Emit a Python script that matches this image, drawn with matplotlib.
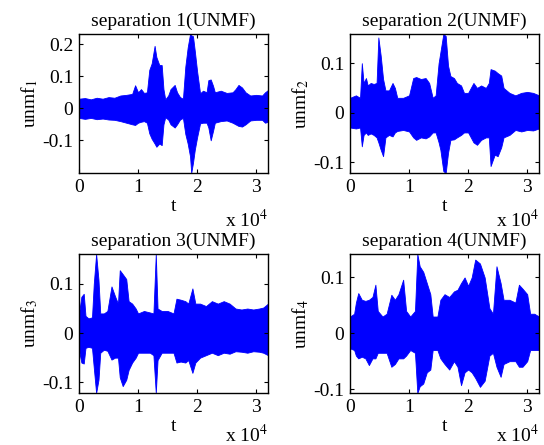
"""Four separated sources (UNMF) drawn as signal envelopes in a 2x2 grid."""

import numpy as np
import matplotlib
matplotlib.use("Agg")
import matplotlib.pyplot as plt

plt.rcParams["font.family"] = ["Liberation Serif", "DejaVu Serif"]
plt.rcParams["mathtext.fontset"] = "stix"
plt.rcParams["font.size"] = 11

# time breakpoints (x 1e4 samples) with upper / lower signal envelope
t1 = [0.00, 0.10, 0.20, 0.30, 0.40, 0.50, 0.60, 0.70, 0.80, 0.90, 0.95, 1.00,
      1.05, 1.10, 1.15, 1.19, 1.23, 1.28, 1.31, 1.36, 1.40, 1.43, 1.46, 1.51,
      1.55, 1.62, 1.66, 1.71, 1.76, 1.80, 1.84, 1.88, 1.90, 1.93, 1.96, 2.00,
      2.05, 2.10, 2.16, 2.19, 2.23, 2.27, 2.30, 2.40, 2.50, 2.60, 2.65, 2.70,
      2.76, 2.82, 2.90, 3.00, 3.10, 3.15, 3.20]
up1 = [.030, .032, .028, .033, .030, .035, .033, .040, .042, .045, .072, .050,
       .060, .048, .050, .120, .140, .195, .160, .135, .135, .060, .028, .040,
       .060, .073, .050, .035, .030, .130, .190, .232, .228, .225, .180, .115,
       .047, .055, .050, .088, .090, .070, .050, .055, .048, .050, .060, .073,
       .065, .050, .040, .042, .040, .050, .057]
lo1 = [-.030, -.033, -.030, -.034, -.032, -.035, -.036, -.040, -.045, -.050,
       -.052, -.045, -.042, -.040, -.045, -.078, -.095, -.110, -.120, -.110,
       -.115, -.050, -.028, -.035, -.050, -.060, -.050, -.035, -.030, -.080,
       -.110, -.150, -.202, -.170, -.130, -.090, -.047, -.045, -.045, -.060,
       -.100, -.070, -.045, -.040, -.038, -.045, -.050, -.055, -.057, -.050,
       -.038, -.036, -.036, -.045, -.042]

t2 = [0.00, 0.10, 0.17, 0.20, 0.23, 0.27, 0.30, 0.35, 0.40, 0.45, 0.48, 0.52,
      0.56, 0.60, 0.66, 0.72, 0.76, 0.80, 0.90, 1.00, 1.07, 1.12, 1.20, 1.28,
      1.34, 1.40, 1.45, 1.50, 1.53, 1.58, 1.62, 1.66, 1.70, 1.76, 1.81, 1.88,
      1.93, 2.00, 2.09, 2.15, 2.22, 2.30, 2.35, 2.38, 2.45, 2.50, 2.56, 2.60,
      2.70, 2.80, 2.90, 3.00, 3.10, 3.20]
up2 = [.030, .035, .030, .100, .060, .070, .055, .060, .058, .060, .152, .115,
       .068, .045, .045, .060, .050, .030, .030, .035, .070, .072, .068, .070,
       .060, .030, .035, .100, .122, .159, .155, .095, .074, .070, .060, .055,
       .040, .040, .060, .050, .055, .050, .060, .088, .085, .080, .075, .050,
       .040, .035, .040, .042, .040, .035]
lo2 = [-.030, -.032, -.030, -.068, -.045, -.040, -.045, -.042, -.045, -.050,
       -.060, -.075, -.088, -.050, -.045, -.048, -.040, -.037, -.035, -.038,
       -.050, -.055, -.050, -.052, -.048, -.040, -.040, -.060, -.075, -.118,
       -.122, -.081, -.055, -.054, -.050, -.045, -.040, -.040, -.060, -.065,
       -.055, -.050, -.050, -.108, -.085, -.088, -.070, -.050, -.045, -.035,
       -.038, -.035, -.036, -.032]

t3 = [0.00, 0.04, 0.08, 0.11, 0.16, 0.22, 0.25, 0.29, 0.33, 0.36, 0.42, 0.48,
      0.55, 0.61, 0.66, 0.69, 0.74, 0.80, 0.84, 0.90, 0.96, 1.00, 1.10, 1.20,
      1.26, 1.30, 1.33, 1.40, 1.50, 1.60, 1.65, 1.72, 1.80, 1.85, 1.92, 1.97,
      2.05, 2.15, 2.25, 2.35, 2.45, 2.55, 2.65, 2.75, 2.85, 2.95, 3.05, 3.12,
      3.20]
up3 = [.040, .074, .080, .035, .030, .032, .100, .161, .108, .040, .040, .045,
       .095, .075, .060, .128, .120, .110, .065, .060, .050, .040, .045, .042,
       .040, .161, .050, .045, .045, .040, .070, .068, .065, .060, .091, .060,
       .060, .055, .065, .060, .065, .060, .050, .048, .050, .048, .050, .052,
       .060]
lo3 = [-.035, -.060, -.062, -.030, -.028, -.030, -.070, -.122, -.095, -.040,
       -.034, -.036, -.054, -.050, -.050, -.090, -.108, -.095, -.075, -.060,
       -.050, -.040, -.040, -.040, -.045, -.122, -.055, -.040, -.040, -.040,
       -.060, -.058, -.060, -.055, -.081, -.060, -.050, -.045, -.040, -.045,
       -.040, -.042, -.037, -.038, -.040, -.037, -.038, -.040, -.045]

t4 = [0.00, 0.07, 0.10, 0.14, 0.20, 0.26, 0.32, 0.38, 0.43, 0.47, 0.55, 0.62,
      0.70, 0.76, 0.82, 0.90, 0.95, 1.02, 1.10, 1.14, 1.18, 1.24, 1.30, 1.36,
      1.40, 1.48, 1.53, 1.60, 1.68, 1.76, 1.82, 1.88, 1.94, 2.00, 2.06, 2.12,
      2.20, 2.28, 2.36, 2.42, 2.48, 2.55, 2.60, 2.70, 2.80, 2.86, 2.92, 3.00,
      3.05, 3.12, 3.20]
up4 = [.030, .035, .055, .072, .060, .058, .060, .065, .087, .040, .030, .035,
       .069, .060, .070, .096, .040, .030, .040, .142, .120, .110, .090, .070,
       .030, .030, .060, .070, .065, .075, .078, .090, .100, .085, .100, .132,
       .125, .100, .045, .035, .120, .090, .060, .060, .055, .087, .080, .070,
       .035, .035, .030]
lo4 = [-.027, -.030, -.040, -.045, -.042, -.045, -.057, -.045, -.045, -.035,
       -.035, -.035, -.060, -.055, -.045, -.045, -.040, -.030, -.035, -.107,
       -.095, -.090, -.070, -.065, -.030, -.030, -.045, -.055, -.065, -.050,
       -.060, -.093, -.070, -.065, -.070, -.080, -.096, -.085, -.040, -.035,
       -.060, -.078, -.055, -.050, -.050, -.060, -.060, -.050, -.030, -.030,
       -.030]

series = [(t1, up1, lo1), (t2, up2, lo2), (t3, up3, lo3), (t4, up4, lo4)]
yticks = [[-0.1, 0, 0.1, 0.2], [-0.1, 0, 0.1], [-0.1, 0, 0.1], [-0.1, 0, 0.1]]

fig = plt.figure(figsize=(5.44, 4.45), dpi=100)
W, H = 544.0, 445.0
boxes = [(79, 34), (350, 34), (79, 254), (350, 254)]  # left, top in px
aw, ah = 189, 139
exp_y = [-0.34, -0.34, -0.305, -0.305]  # height of the "x 10^4" multiplier

for i, ((t, up, lo), (lx, ty)) in enumerate(zip(series, boxes)):
    ax = fig.add_axes([lx / W, 1 - (ty + ah) / H, aw / W, ah / H])
    x = np.array(t) * 1e4
    ax.fill_between(x, up, lo, color="#0000ff", linewidth=0.6,
                    edgecolor="#0000ff")
    ax.set_xlim(0, 3.2e4)
    ax.set_ylim(min(lo), max(up))
    ax.set_xticks([0, 1e4, 2e4, 3e4])
    ax.set_xticklabels(["0", "1", "2", "3"])
    ax.set_yticks(yticks[i])
    ax.set_yticklabels([f"{v:g}" for v in yticks[i]])
    ax.tick_params(direction="in", length=3, width=0.8, top=True, right=True,
                   labelsize=14, pad=4)
    for s in ax.spines.values():
        s.set_linewidth(1.0)
    ax.set_title(f"separation {i + 1}(UNMF)", fontsize=14, pad=6)
    ax.set_xlabel("t", fontsize=14, labelpad=2)
    ax.set_ylabel(f"unmf$_{i + 1}$", fontsize=14, labelpad=2)
    ax.text(1.0, exp_y[i], r"x 10$^4$", transform=ax.transAxes, ha="right",
            va="center", fontsize=14)

fig.savefig("out.png", dpi=100)
